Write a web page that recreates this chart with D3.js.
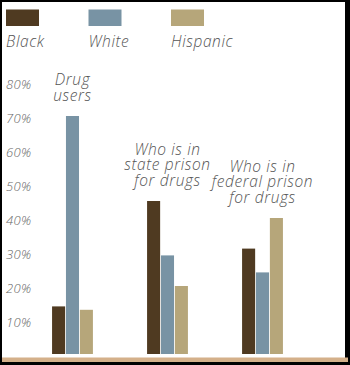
<!DOCTYPE html>
<html>
<head>
<meta charset="utf-8">
<script src="https://cdn.jsdelivr.net/npm/d3@7"></script>
<style>
  html, body { margin: 0; padding: 0; background: #000; }
  svg { display: block; }
  text { font-family: "Open Sans", "Noto Sans", sans-serif; font-style: italic; font-weight: 300; }
</style>
</head>
<body>
<script>
const series = ["Black", "White", "Hispanic"];
const colors = ["#4f3a21", "#7893a4", "#b6a67a"];
const groups = ["Drug users", "state prison", "federal prison"];
const groupLabels = [["Drug", "users"], ["Who is in", "state prison", "for drugs"], ["Who is in", "federal prison", "for drugs"]];
const blackVals = [14, 45, 31];
const whiteVals = [70, 29, 24];
const hispanicVals = [13, 20, 40];
const tickValues = [10, 20, 30, 40, 50, 60, 70, 80];
const tickLabels = ["10%", "20%", "30%", "40%", "50%", "60%", "70%", "80%"];

const W = 350, H = 365;
const svg = d3.select("body").append("svg").attr("width", W).attr("height", H);

// frame
svg.append("rect").attr("width", W).attr("height", H).attr("fill", "#000");
svg.append("rect").attr("x", 2).attr("y", 2).attr("width", 343).attr("height", 360).attr("fill", "#fff");

const y = d3.scaleLinear().domain([0, 80]).range([354, 82]);
const x0 = d3.scaleBand().domain(groups).range([20, 315]).paddingInner(0.57).paddingOuter(0.3375);
const x1 = d3.scaleBand().domain(series).range([0, x0.bandwidth()]).paddingInner(0.06);
const color = d3.scaleOrdinal().domain(series).range(colors);

// baseline
svg.append("rect").attr("x", 2).attr("y", 357.5).attr("width", 346).attr("height", 4.5).attr("fill", "#d4b08a");

// y tick labels
const yAxis = svg.append("g").attr("class", "yaxis");
yAxis.selectAll("text").data(tickValues).join("text")
  .attr("x", 6).attr("y", d => y(d) + 7)
  .attr("font-size", 13).attr("fill", "#666").attr("letter-spacing", 0.3)
  .text((d, i) => tickLabels[i]);

// legend
const legendX = d3.scalePoint().domain(series).range([6, 171]);
const lg = svg.append("g");
series.forEach(s => {
  lg.append("rect").attr("x", legendX(s)).attr("y", 9.5).attr("width", 33).attr("height", 16.5).attr("fill", color(s));
  lg.append("text").attr("x", legendX(s)).attr("y", 47).attr("font-size", 15.5).attr("letter-spacing", 0.6)
    .attr("fill", "#555").text(s);
});

// bars
const data = groups.map((g, i) => ({ group: g, values: [blackVals[i], whiteVals[i], hispanicVals[i]] }));
const gg = svg.append("g").selectAll("g").data(data).join("g")
  .attr("transform", d => `translate(${x0(d.group)},0)`);
gg.selectAll("rect").data(d => d.values.map((v, j) => ({ s: series[j], v })))
  .join("rect")
  .attr("x", d => x1(d.s)).attr("width", x1.bandwidth())
  .attr("y", d => y(d.v)).attr("height", d => y(0) - y(d.v))
  .attr("fill", d => color(d.s));

// group labels
data.forEach((d, i) => {
  const lines = groupLabels[i];
  const top = y(d3.max(d.values));
  const cx = x0(d.group) + x0.bandwidth() / 2;
  const lastBase = top - 15;
  const t = svg.append("text").attr("text-anchor", "middle").attr("font-size", 15.5)
    .attr("letter-spacing", 0.6).attr("fill", "#555");
  lines.forEach((ln, k) => {
    t.append("tspan").attr("x", cx).attr("y", lastBase - (lines.length - 1 - k) * 15.6).text(ln);
  });
});
</script>
</body>
</html>
